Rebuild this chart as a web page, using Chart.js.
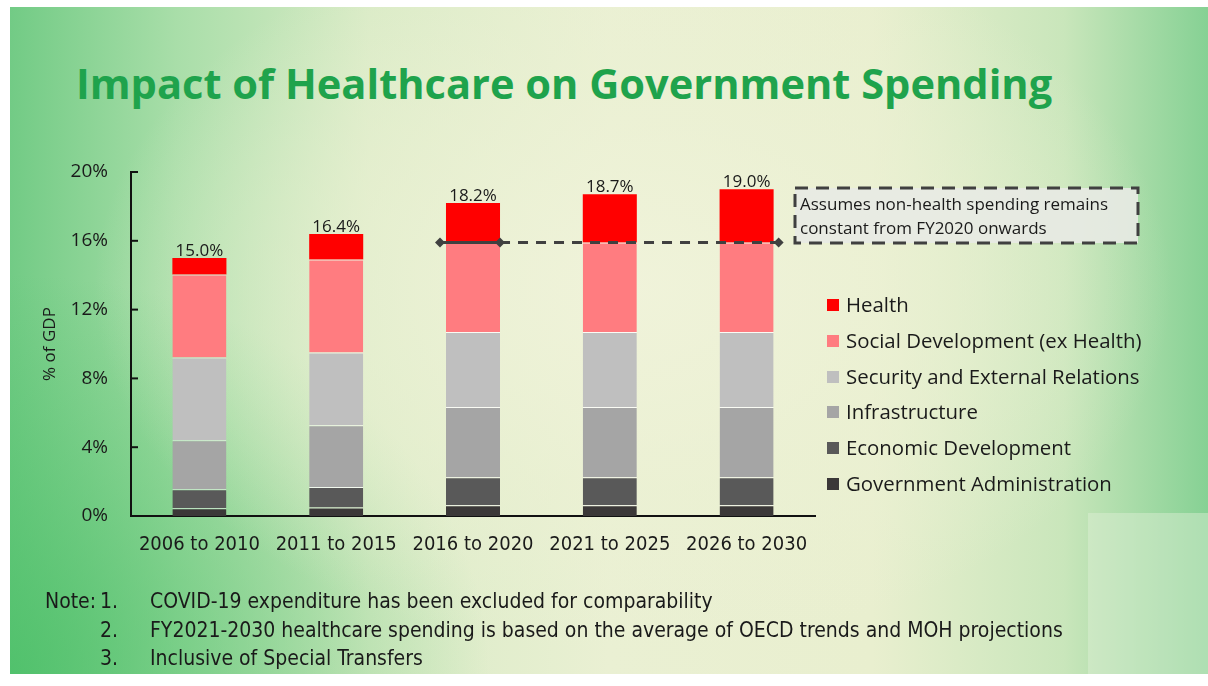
<!DOCTYPE html>
<html>
<head>
  <title>Impact of Healthcare on Government Spending</title>
  <script src="https://cdn.jsdelivr.net/npm/chart.js"></script>
  <style>
    body {
      margin: 0;
      width: 1208px;
      height: 686px;
      background: #fff;
      overflow: hidden;
      font-family: "Open Sans", sans-serif;
      color: #1a1a1a;
    }

    .slide {
      position: absolute;
      left: 10px;
      top: 7px;
      width: 1198px;
      height: 667px;
      background:
        radial-gradient(ellipse 45% 55% at 52% 42%, rgba(240,243,218,0.95) 0%, rgba(236,241,212,0.6) 55%, rgba(236,241,212,0) 100%),
        radial-gradient(ellipse 40% 60% at 0% 100%, rgba(70,190,100,0.75) 0%, rgba(70,190,100,0) 100%),
        linear-gradient(90deg, #72cb85 0%, #a9dea9 14%, #d9ebc6 30%, #eaf0d3 50%, #e9efcf 72%, #c9e6bb 88%, #86d194 100%);
    }

    .corner {
      position: absolute;
      left: 1088px;
      top: 513px;
      width: 120px;
      height: 161px;
      background: rgba(225,240,215,0.45);
    }

    .title {
      position: absolute;
      left: 76px;
      top: 55px;
      font-family: "Open Sans", sans-serif;
      font-weight: 700;
      font-size: 41.6px;
      color: #1fa34c;
      white-space: nowrap;
    }

    #chartBox {
      position: absolute;
      left: 0;
      top: 0;
      width: 1208px;
      height: 686px;
    }

    #legend {
      position: absolute;
      left: 827px;
      top: 287px;
      font-size: 20.4px;
      line-height: 35.8px;
    }

    #legend .sw {
      display: inline-block;
      width: 12px;
      height: 12px;
      margin-right: 7px;
      vertical-align: 1px;
    }

    #notes {
      position: absolute;
      left: 45px;
      top: 587px;
      font-family: "Liberation Sans Narrow", "DejaVu Sans Condensed", sans-serif;
      font-size: 21px;
      line-height: 28.5px;
      color: #1a1a1a;
    }

    #notes div {
      position: relative;
      white-space: nowrap;
    }

    #notes .lab { position: absolute; left: 0; }
    #notes .num { position: absolute; left: 55px; }
    #notes .txt { padding-left: 105px; }
  </style>
</head>
<body>
  <div class="slide"></div>
  <div class="corner"></div>
  <div class="title">Impact of Healthcare on Government Spending</div>

  <div id="chartBox"><canvas id="spendChart"></canvas></div>

  <div id="legend"></div>
  <div id="notes"></div>

  <script>
    // categories and series (% of GDP), stacked bottom to top
    const categories = ['2006 to 2010', '2011 to 2015', '2016 to 2020', '2021 to 2025', '2026 to 2030'];
    const seriesNames = ['Government Administration', 'Economic Development', 'Infrastructure',
      'Security and External Relations', 'Social Development (ex Health)', 'Health'];
    const govAdmin = [0.45, 0.50, 0.62, 0.62, 0.62];
    const econDev = [1.10, 1.19, 1.63, 1.63, 1.63];
    const infrastructure = [2.86, 3.59, 4.08, 4.08, 4.08];
    const security = [4.81, 4.23, 4.37, 4.37, 4.37];
    const socialDev = [4.82, 5.40, 5.20, 5.20, 5.20];
    const health = [0.96, 1.49, 2.30, 2.80, 3.10];
    const seriesColors = ['#3b3838', '#595959', '#a5a5a5', '#bfbfbf', '#ff7c80', '#ff0000'];

    const yTickValues = [0, 4, 8, 12, 16, 20];
    const nonHealthLevel = 15.9;
    const noteText = [
      'COVID-19 expenditure has been excluded for comparability',
      'FY2021-2030 healthcare spending is based on the average of OECD trends and MOH projections',
      'Inclusive of Special Transfers'
    ];
    const boxText = ['Assumes non-health spending remains', 'constant from FY2020 onwards'];

    const seriesData = [govAdmin, econDev, infrastructure, security, socialDev, health];

    // legend, top entry = top of stack
    const legendEl = document.getElementById('legend');
    for (let i = seriesNames.length - 1; i >= 0; i--) {
      const row = document.createElement('div');
      row.innerHTML = '<span class="sw" style="background:' + seriesColors[i] + '"></span>' + seriesNames[i];
      legendEl.appendChild(row);
    }

    const notesEl = document.getElementById('notes');
    noteText.forEach((t, i) => {
      const row = document.createElement('div');
      row.innerHTML = (i === 0 ? '<span class="lab">Note:</span>' : '') +
        '<span class="num">' + (i + 1) + '.</span><span class="txt">' + t + '</span>';
      notesEl.appendChild(row);
    });

    const extras = {
      id: 'extras',
      afterDatasetsDraw(chart) {
        const { ctx, chartArea, scales: { y } } = chart;
        ctx.save();

        // inner tick marks on the y axis
        ctx.strokeStyle = '#111';
        ctx.lineWidth = 2;
        yTickValues.forEach(v => {
          const py = y.getPixelForValue(v);
          ctx.beginPath();
          ctx.moveTo(chartArea.left, py);
          ctx.lineTo(chartArea.left + 7, py);
          ctx.stroke();
        });

        // totals above bars
        const topMeta = chart.getDatasetMeta(seriesData.length - 1);
        ctx.fillStyle = '#1a1a1a';
        ctx.font = '17px "Open Sans"';
        ctx.textAlign = 'center';
        ctx.textBaseline = 'alphabetic';
        categories.forEach((c, i) => {
          const total = seriesData.reduce((s, arr) => s + arr[i], 0);
          const el = topMeta.data[i];
          ctx.fillText(total.toFixed(1) + '%', el.x, el.y - 2);
        });

        // constant non-health line
        const socMeta = chart.getDatasetMeta(4);
        const b3 = socMeta.data[2], b5 = socMeta.data[4];
        const ly = y.getPixelForValue(nonHealthLevel);
        const x0 = b3.x - b3.width / 2 - 6;
        const x1 = b3.x + b3.width / 2;
        const x2 = b5.x + b5.width / 2 + 5;
        ctx.strokeStyle = '#404040';
        ctx.lineWidth = 3;
        ctx.beginPath();
        ctx.moveTo(x0, ly);
        ctx.lineTo(x1, ly);
        ctx.stroke();
        ctx.setLineDash([10, 8]);
        ctx.beginPath();
        ctx.moveTo(x1, ly);
        ctx.lineTo(x2, ly);
        ctx.stroke();
        ctx.setLineDash([]);
        ctx.fillStyle = '#404040';
        [x0, x1, x2].forEach(px => {
          ctx.beginPath();
          ctx.moveTo(px, ly - 5);
          ctx.lineTo(px + 5, ly);
          ctx.lineTo(px, ly + 5);
          ctx.lineTo(px - 5, ly);
          ctx.closePath();
          ctx.fill();
        });

        // note box
        const bx = 795, by = 188, bw = 343, bh = 55;
        ctx.fillStyle = 'rgba(232,234,228,0.9)';
        ctx.fillRect(bx, by, bw, bh);
        ctx.strokeStyle = '#404040';
        ctx.lineWidth = 3;
        ctx.setLineDash([13, 8]);
        ctx.strokeRect(bx, by, bw, bh);
        ctx.setLineDash([]);
        ctx.fillStyle = '#1a1a1a';
        ctx.font = '17px "Open Sans"';
        ctx.textAlign = 'left';
        ctx.textBaseline = 'middle';
        ctx.fillText(boxText[0], bx + 5, by + 17);
        ctx.fillText(boxText[1], bx + 5, by + 41);

        ctx.restore();
      }
    };

    const ctx = document.getElementById('spendChart').getContext('2d');
    const chart = new Chart(ctx, {
      type: 'bar',
      data: {
        labels: categories,
        datasets: seriesData.map((arr, i) => ({
          label: seriesNames[i],
          data: arr,
          backgroundColor: seriesColors[i],
          borderColor: 'rgba(255,255,255,0.75)',
          borderWidth: i === seriesData.length - 1 ? 0 : { top: 1, left: 0, right: 0, bottom: 0 },
          borderSkipped: false,
          categoryPercentage: 1,
          barPercentage: 0.395
        }))
      },
      options: {
        responsive: true,
        maintainAspectRatio: false,
        animation: false,
        layout: {
          padding: { left: 36, right: 393, top: 172, bottom: 110 }
        },
        plugins: {
          legend: { display: false },
          tooltip: { enabled: false }
        },
        scales: {
          x: {
            stacked: true,
            grid: { display: false, drawTicks: false },
            border: { display: true, color: '#111', width: 2 },
            ticks: {
              color: '#1a1a1a',
              padding: 17,
              maxRotation: 0,
              font: { family: '"Liberation Sans Narrow", "DejaVu Sans Condensed", sans-serif', size: 20 }
            },
            afterFit: s => { s.height = 60; }
          },
          y: {
            stacked: true,
            min: 0,
            max: 20,
            grid: { display: false, drawTicks: false },
            border: { display: true, color: '#111', width: 2 },
            ticks: {
              stepSize: 4,
              color: '#1a1a1a',
              padding: 23,
              font: { family: '"Open Sans"', size: 19 },
              callback: v => v + '%'
            },
            title: {
              display: true,
              text: '% of GDP',
              color: '#1a1a1a',
              font: { family: '"Open Sans"', size: 17 }
            },
            afterFit: s => { s.width = 95; }
          }
        }
      },
      plugins: [extras]
    });
  </script>
</body>
</html>
